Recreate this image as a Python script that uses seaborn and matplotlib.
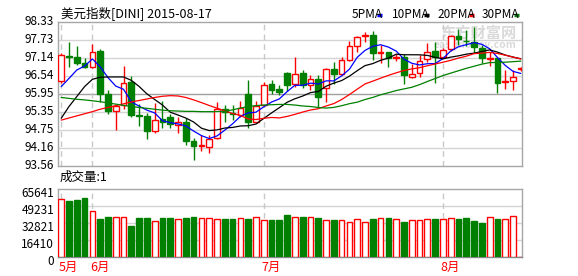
import numpy as np
import pandas as pd
import matplotlib
matplotlib.use("Agg")
import matplotlib.pyplot as plt
import seaborn as sns
from matplotlib.transforms import ScaledTranslation, blended_transform_factory

# ---------------- data ----------------
opens = [96.386, 97.215, 97.160, 96.961, 96.850, 97.369, 95.945, 95.382, 95.580, 96.354,
         95.249, 95.216, 94.730, 95.106, 95.172, 94.929, 95.029, 94.388, 94.234, 94.200,
         94.476, 95.448, 95.305, 95.249, 95.945, 95.029, 95.580, 96.265, 96.111, 96.630,
         96.265, 96.652, 96.243, 96.431, 96.133, 96.762, 96.608, 97.071, 97.546, 97.866,
         97.900, 97.292, 97.325, 97.138, 97.160, 96.519, 96.630, 97.093, 97.369, 97.182,
         97.425, 97.866, 97.712, 97.679, 97.458, 97.104, 97.127, 96.342, 96.387, 96.773]
highs = [97.292, 97.656, 97.535, 97.127, 97.601, 97.425, 96.077, 95.603, 96.872, 96.541,
         95.603, 95.327, 95.636, 95.713, 95.271, 95.194, 95.139, 94.476, 94.587, 94.587,
         95.691, 95.580, 95.580, 95.724, 96.409, 95.724, 96.354, 96.409, 96.243, 96.663,
         97.182, 96.740, 96.574, 96.574, 96.795, 96.994, 97.182, 97.712, 97.866, 97.988,
         98.032, 97.568, 97.347, 97.270, 97.259, 96.939, 97.237, 97.645, 97.679, 97.458,
         97.900, 98.087, 98.065, 98.176, 97.568, 97.347, 97.149, 96.740, 96.740, 96.850]
lows = [96.320, 96.850, 96.906, 96.795, 96.817, 95.691, 95.282, 94.752, 95.437, 95.194,
        94.885, 94.454, 94.664, 94.808, 94.808, 94.664, 94.256, 93.759, 94.068, 93.980,
        94.454, 95.029, 95.084, 95.194, 94.808, 94.973, 95.547, 95.945, 95.912, 96.055,
        96.188, 96.133, 96.077, 95.503, 95.691, 96.265, 96.574, 97.038, 97.325, 97.656,
        97.071, 96.961, 96.850, 97.049, 96.276, 96.464, 96.497, 97.016, 96.320, 97.127,
        97.380, 97.568, 97.535, 97.292, 96.983, 96.872, 95.967, 96.111, 96.077, 96.718]
closes = [97.237, 97.182, 96.961, 96.828, 97.325, 95.945, 95.393, 95.547, 96.298, 95.249,
          95.227, 94.730, 95.084, 95.006, 94.940, 95.006, 94.399, 94.234, 94.256, 94.454,
          95.437, 95.360, 95.282, 95.481, 95.029, 95.559, 96.243, 96.077, 96.000, 96.243,
          96.608, 96.243, 96.431, 95.857, 96.762, 96.608, 97.071, 97.535, 97.822, 97.911,
          97.292, 97.325, 97.149, 97.160, 96.574, 96.608, 97.049, 97.347, 97.182, 97.403,
          97.866, 97.756, 97.690, 97.513, 97.127, 97.127, 96.320, 96.376, 96.519, 96.795]
volumes = [56170, 54540, 55520, 57480, 44410, 36900, 38540, 38540, 38540, 30040,
           37880, 37880, 34620, 37880, 37880, 36900, 37880, 38540, 37560, 37560,
           36900, 36900, 36900, 37560, 36900, 38540, 35920, 35920, 35920, 40820,
           38540, 38540, 38540, 37880, 35920, 35920, 35920, 33640, 36900, 33640,
           36900, 37880, 37880, 36900, 33960, 35920, 35920, 36900, 36900, 36900,
           37560, 36900, 37560, 34940, 32980, 38540, 36900, 36900, 39520, 1]
ma5 = [96.19, 96.46, 96.74, 96.87, 97.107, 96.848, 96.490, 96.208, 96.102, 95.686,
       95.543, 95.410, 95.318, 95.059, 94.997, 94.953, 94.887, 94.717, 94.567, 94.470,
       94.556, 94.748, 94.958, 95.203, 95.318, 95.342, 95.519, 95.678, 95.782, 96.024,
       96.234, 96.234, 96.305, 96.276, 96.380, 96.380, 96.546, 96.767, 97.160, 97.389,
       97.526, 97.577, 97.500, 97.367, 97.100, 96.963, 96.908, 96.948, 96.952, 97.118,
       97.369, 97.511, 97.579, 97.646, 97.590, 97.443, 97.155, 96.893, 96.694, 96.627]
ma10 = [95.14, 95.53, 95.86, 96.19, 96.43, 96.50, 96.51, 96.51, 96.51, 96.397,
        96.196, 95.950, 95.763, 95.580, 95.342, 95.248, 95.149, 95.017, 94.813, 94.734,
        94.755, 94.818, 94.837, 94.885, 94.894, 94.949, 95.134, 95.318, 95.492, 95.671,
        95.788, 95.877, 95.991, 96.029, 96.202, 96.307, 96.390, 96.536, 96.718, 96.885,
        96.953, 97.061, 97.133, 97.264, 97.245, 97.245, 97.243, 97.224, 97.160, 97.109,
        97.166, 97.209, 97.264, 97.299, 97.354, 97.406, 97.333, 97.236, 97.170, 97.109]
ma20 = [95.08, 95.15, 95.22, 95.29, 95.36, 95.44, 95.50, 95.56, 95.62, 95.68,
        95.73, 95.78, 95.83, 95.87, 95.89, 95.88, 95.83, 95.75, 95.66, 95.565,
        95.475, 95.384, 95.300, 95.233, 95.118, 95.099, 95.141, 95.168, 95.153, 95.202,
        95.271, 95.347, 95.414, 95.457, 95.548, 95.628, 95.762, 95.927, 96.105, 96.278,
        96.371, 96.469, 96.562, 96.646, 96.724, 96.776, 96.816, 96.880, 96.939, 96.997,
        97.060, 97.135, 97.198, 97.281, 97.299, 97.325, 97.288, 97.230, 97.165, 97.109]
ma30 = [95.83, 95.80, 95.77, 95.75, 95.72, 95.69, 95.65, 95.61, 95.57, 95.53,
        95.50, 95.47, 95.44, 95.41, 95.39, 95.38, 95.37, 95.37, 95.36, 95.36,
        95.36, 95.37, 95.42, 95.48, 95.53, 95.56, 95.58, 95.59, 95.60, 95.600,
        95.579, 95.548, 95.530, 95.498, 95.479, 95.501, 95.557, 95.624, 95.674, 95.763,
        95.832, 95.919, 95.987, 96.059, 96.114, 96.167, 96.255, 96.359, 96.457, 96.555,
        96.636, 96.716, 96.796, 96.864, 96.934, 96.986, 96.989, 96.999, 97.016, 97.034]
price_ticks = [98.33, 97.73, 97.14, 96.54, 95.95, 95.35, 94.75, 94.16, 93.56]
vol_ticks = [65641, 49231, 32821, 16410, 0]
month_labels = ["5月", "6月", "7月", "8月"]
month_start = [0, 4, 26, 49]
title_text = "美元指数[DINI] 2015-08-17"
ma_names = ["5PMA", "10PMA", "20PMA", "30PMA"]
vol_title = "成交量:1"

# ---------------- style ----------------
sns.set_theme(style="white")
plt.rcParams["font.family"] = ["Noto Sans CJK SC", "DejaVu Sans"]
RED = "#FF0000"
GREEN = "#008000"
GRID = "#D4D4D4"
BORDER = "#A6A6A6"

W, H = 578, 276
fig = plt.figure(figsize=(W / 100, H / 100), dpi=100)
fig.patch.set_facecolor("white")


def rect(l, t, r, b):
    return [l / W, 1 - b / H, (r - l) / W, (b - t) / H]


ax = fig.add_axes(rect(58.3, 22, 522.3, 166))
axv = fig.add_axes(rect(58.3, 189.3, 522.3, 257.3))

n = len(closes)
x = np.arange(n)
o = np.array(opens); c = np.array(closes); hi = np.array(highs); lo = np.array(lows)
up = c >= o
cols = np.where(up, RED, GREEN)
faces = np.where(up, "white", GREEN)
bw = 0.73

# candles
ax.vlines(x, lo, hi, colors=cols, lw=1, zorder=3)
bot = np.minimum(o, c)
hgt = np.maximum(np.abs(c - o), 0.004)
ax.bar(x, hgt, bottom=bot, width=bw, color=faces, edgecolor=cols, lw=1, zorder=4)

# moving averages
df = pd.DataFrame({"i": x, "5PMA": ma5, "10PMA": ma10, "20PMA": ma20, "30PMA": ma30})
ma_colors = ["#0000FF", "#000000", RED, GREEN]
for name, col in zip(ma_names, ma_colors):
    sns.lineplot(data=df, x="i", y=name, ax=ax, color=col, lw=0.9, zorder=5)

xl = (-0.372, 59.19)
ax.set_xlim(*xl)
ax.set_ylim(93.56, 98.33)
ax.set_xlabel(""); ax.set_ylabel("")
ax.set_xticks([])
ax.set_yticks(price_ticks)
ax.set_yticklabels([f"{v:.2f}" for v in price_ticks])
ax.tick_params(axis="y", length=0, pad=3, labelsize=8.5, colors="black")
for lbl in ax.get_yticklabels():
    lbl.set_transform(lbl.get_transform() + ScaledTranslation(0, 0.02, fig.dpi_scale_trans))
for v in price_ticks[1:-1]:
    ax.axhline(v, color=("#A0A0A0" if v == 95.95 else GRID), lw=1, zorder=1)
for m in month_start:
    ax.axvline(m, color="#C8C8C8", lw=1, ls=(0, (4, 3)), zorder=1)
for s in ax.spines.values():
    s.set_color(BORDER); s.set_linewidth(1)

# watermark
ax.text(0.988, 0.925, "东方财富网", transform=ax.transAxes, ha="right", va="center",
        fontsize=11, fontweight="bold", color="#DADADA", zorder=0.5)
ax.text(0.988, 0.84, "eastmoney.com", transform=ax.transAxes, ha="right", va="center",
        fontsize=7.5, fontweight="bold", color="#DADADA", zorder=0.5)

# title and legend
fig.text(61 / W, 1 - 14 / H, title_text, ha="left", va="center", fontsize=9, color="black")
leg_x = [351.5, 392, 437, 482]
dash_x = [377, 424, 469, 514]
for name, col, lx, dx in zip(ma_names, ma_colors, leg_x, dash_x):
    fig.text(lx / W, 1 - 14 / H, name, ha="left", va="center", fontsize=8.5, color="black")
    fig.add_artist(plt.Line2D([dx / W, (dx + 5) / W], [1 - 15 / H, 1 - 15 / H],
                              color=col, lw=2.5, solid_capstyle="butt"))

# volume panel
vface = np.where(up, "white", GREEN)
axv.bar(x, volumes, width=bw, color=vface, edgecolor=cols, lw=1, zorder=3)
axv.set_xlim(*xl)
axv.set_ylim(0, 65641)
axv.set_xticks([])
axv.set_yticks(vol_ticks)
axv.set_yticklabels([str(v) for v in vol_ticks])
axv.tick_params(axis="y", length=0, pad=3, labelsize=8.5, colors="black")
for lbl in axv.get_yticklabels():
    lbl.set_transform(lbl.get_transform() + ScaledTranslation(0, -0.027, fig.dpi_scale_trans))
for v in vol_ticks[1:-1]:
    axv.axhline(v, color=GRID, lw=1, zorder=1)
for m in month_start:
    axv.axvline(m, color="#C8C8C8", lw=1, ls=(0, (4, 3)), zorder=1)
for s in axv.spines.values():
    s.set_color(BORDER); s.set_linewidth(1)
axv.spines["bottom"].set_color("#888888")
axv.set_xlabel(""); axv.set_ylabel("")

fig.text(60 / W, 1 - 177.5 / H, vol_title, ha="left", va="center", fontsize=9, color="black")
tr = blended_transform_factory(axv.transData, fig.transFigure)
for m, lab in zip(month_start, month_labels):
    axv.text(m - 0.33, 1 - 267.5 / H, lab, transform=tr, ha="left", va="center",
             fontsize=9, color=RED, clip_on=False)

fig.savefig("out.png", dpi=100, facecolor="white")
